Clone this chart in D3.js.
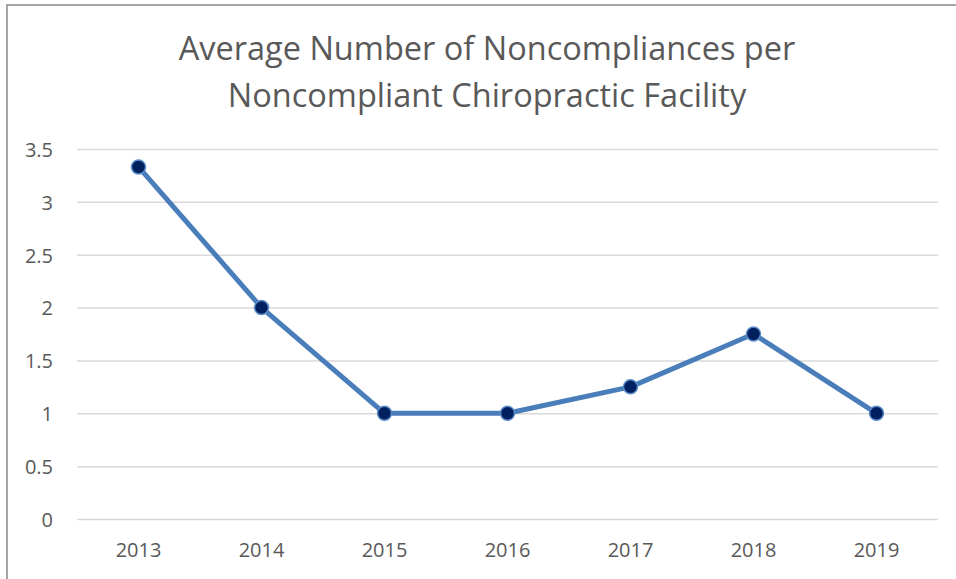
<!DOCTYPE html>
<head>
  <meta charset="utf-8">
  <script src="https://d3js.org/d3.v7.min.js"></script>
  <style type="text/css">
    body { margin: 0; background: #fff; }
    * { font-family: "Open Sans", "Noto Sans", sans-serif; }
  </style>
</head>
<body>
<div id="my_dataviz"></div>
<script>

// data
var years = ["2013", "2014", "2015", "2016", "2017", "2018", "2019"];
var values = [3.33, 2, 1, 1, 1.25, 1.75, 1];
var yTicks = [0, 0.5, 1, 1.5, 2, 2.5, 3, 3.5];
var titleLines = ["Average Number of Noncompliances per", "Noncompliant Chiropractic Facility"];

var W = 956, H = 579;
var margin = {top: 149, right: 18, bottom: 60, left: 77},
    width = 938 - margin.left,
    height = 519 - margin.top;

var root = d3.select("#my_dataviz")
  .append("svg")
    .attr("width", W)
    .attr("height", H);

// chart frame
root.append("rect")
  .attr("x", 7).attr("y", 5)
  .attr("width", W + 10).attr("height", H + 10)
  .attr("fill", "none")
  .attr("stroke", "#898989")
  .attr("stroke-width", 1.5);

// title
root.append("text")
  .attr("x", 487)
  .attr("text-anchor", "middle")
  .style("font-size", "32.5px")
  .style("font-weight", 400)
  .attr("fill", "#595959")
  .selectAll("tspan")
  .data(titleLines)
  .enter()
  .append("tspan")
    .attr("x", 487)
    .attr("y", function(d, i) { return 60 + i * 46.5; })
    .text(function(d) { return d; });

var svg = root.append("g")
  .attr("transform", "translate(" + margin.left + "," + margin.top + ")");

var x = d3.scaleBand()
  .domain(years)
  .range([0, width]);

var y = d3.scaleLinear()
  .domain([0, 3.5])
  .range([height, 0]);

// gridlines + y labels
svg.append("g")
  .call(d3.axisLeft(y).tickValues(yTicks).tickSize(-width).tickPadding(24).tickFormat(d3.format("")))
  .call(function(g) { g.select(".domain").remove(); })
  .call(function(g) {
    g.selectAll(".tick line").attr("stroke", "#d9d9d9").attr("stroke-width", 1.5);
    g.selectAll(".tick text").attr("fill", "#595959").attr("dy", "0.37em").style("font-size", "20px");
  });

// x labels
svg.append("g")
  .attr("transform", "translate(0," + height + ")")
  .call(d3.axisBottom(x).tickSize(0).tickPadding(24))
  .call(function(g) { g.select(".domain").remove(); })
  .call(function(g) {
    g.selectAll(".tick text").attr("fill", "#595959").style("font-size", "20px");
  });

var pts = years.map(function(d, i) { return {year: d, value: values[i]}; });

var line = d3.line()
  .x(function(d) { return x(d.year) + x.bandwidth() / 2; })
  .y(function(d) { return y(d.value); });

svg.append("path")
  .datum(pts)
  .attr("d", line)
  .attr("fill", "none")
  .attr("stroke", "#4a7ebb")
  .attr("stroke-width", 5)
  .attr("stroke-linejoin", "round")
  .attr("stroke-linecap", "round");

svg.selectAll("circle.pt")
  .data(pts)
  .enter()
  .append("circle")
    .attr("class", "pt")
    .attr("cx", function(d) { return x(d.year) + x.bandwidth() / 2; })
    .attr("cy", function(d) { return y(d.value); })
    .attr("r", 7)
    .attr("fill", "#002060")
    .attr("stroke", "#5b8bc9")
    .attr("stroke-width", 1.5);

</script>
</body>
</html>
